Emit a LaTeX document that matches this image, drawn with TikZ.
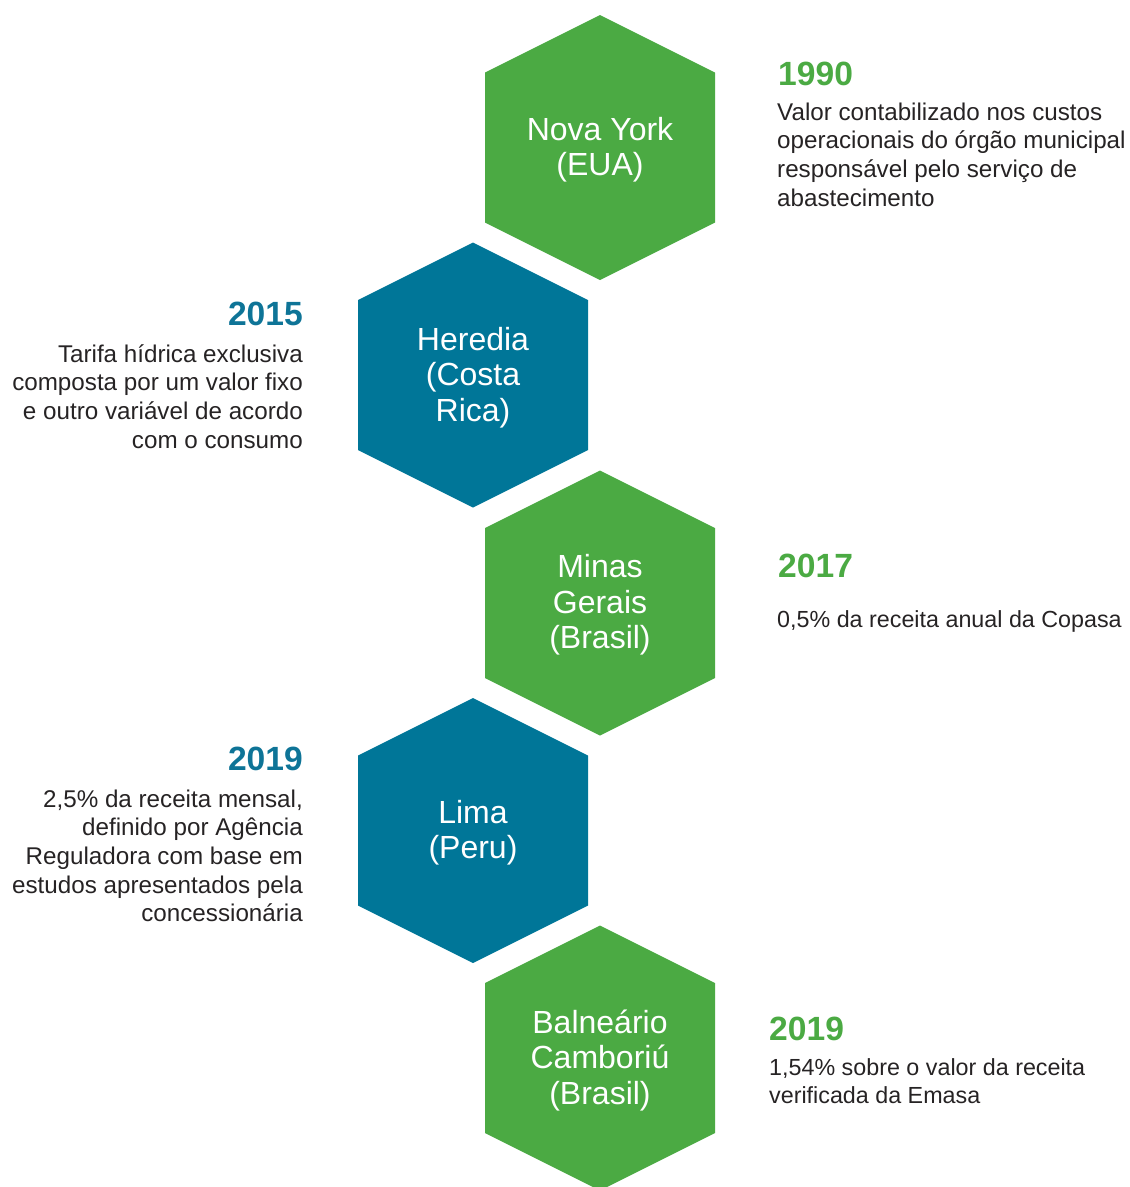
\documentclass[tikz,border=0pt]{standalone}
\usepackage{fontspec}
\setmainfont{Liberation Sans}
\definecolor{hgreen}{RGB}{75,170,67}
\definecolor{hblue}{RGB}{0,118,152}
\definecolor{ygreen}{RGB}{75,170,67}
\definecolor{yblue}{RGB}{14,116,151}
\definecolor{txt}{RGB}{38,35,36}
\newcommand\hexpath[2]{(#1,#2-132.5) -- (#1+115,#2-75) -- (#1+115,#2+75) -- (#1,#2+132.5) -- (#1-115,#2+75) -- (#1-115,#2-75) -- cycle}
\begin{document}
\begin{tikzpicture}[x=1pt,y=-1pt,
  hexlabel/.style={text=white,align=center,inner sep=0pt,font=\fontsize{32}{35.3}\selectfont},
  year/.style={inner sep=0pt,font=\fontsize{33.6}{36}\selectfont\bfseries},
  desc/.style={inner sep=0pt,text=txt,font=\fontsize{24.2}{28.7}\selectfont},
  descsmall/.style={desc,font=\fontsize{23.3}{28.7}\selectfont}]
\useasboundingbox (0,0) rectangle (1130,1187);
\clip (0,0) rectangle (1130,1187);
% hexagons
\fill[hgreen] \hexpath{600}{147.5};
\fill[hblue]  \hexpath{473}{375};
\fill[hgreen] \hexpath{600}{603};
\fill[hblue]  \hexpath{473}{830.5};
\fill[hgreen] \hexpath{600}{1058};
% labels
\node[hexlabel] (ny) at (600,149.5) {Nova York\\(EUA)};
\node[hexlabel] (he) at (473,377.5) {Heredia\\(Costa\\Rica)};
\node[hexlabel] (mg) at (600,605) {Minas\\Gerais\\(Brasil)};
\node[hexlabel] (li) at (473,833) {Lima\\(Peru)};
\node[hexlabel] (bc) at (600,1060.5) {Balneário\\Camboriú\\(Brasil)};
% years
\node[year,text=ygreen,anchor=base west] (y1) at (778,85) {1990};
\node[year,text=yblue,anchor=base east] (y2) at (303,325) {2015};
\node[year,text=ygreen,anchor=base west] (y3) at (778,577) {2017};
\node[year,text=yblue,anchor=base east] (y4) at (303,770) {2019};
\node[year,text=ygreen,anchor=base west] (y5) at (769,1040) {2019};
% descriptions
\node[desc,anchor=base west] (d1) at (777,120) {\begin{tabular}[t]{@{}l@{}}Valor contabilizado nos custos\\operacionais do órgão municipal\\responsável pelo serviço de\\abastecimento\end{tabular}};
\node[desc,anchor=base east] (d2) at (303,362) {\begin{tabular}[t]{@{}r@{}}Tarifa hídrica exclusiva\\composta por um valor fixo\\e outro variável de acordo\\com o consumo\end{tabular}};
\node[descsmall,anchor=base west] (d3) at (777,627) {0,5\% da receita anual da Copasa};
\node[desc,anchor=base east] (d4) at (303,807) {\begin{tabular}[t]{@{}r@{}}2,5\% da receita mensal,\\definido por Agência\\Reguladora com base em\\estudos apresentados pela\\concessionária\end{tabular}};
\node[descsmall,anchor=base west] (d5) at (769,1075) {\begin{tabular}[t]{@{}l@{}}1,54\% sobre o valor da receita\\verificada da Emasa\end{tabular}};
\end{tikzpicture}
\end{document}
